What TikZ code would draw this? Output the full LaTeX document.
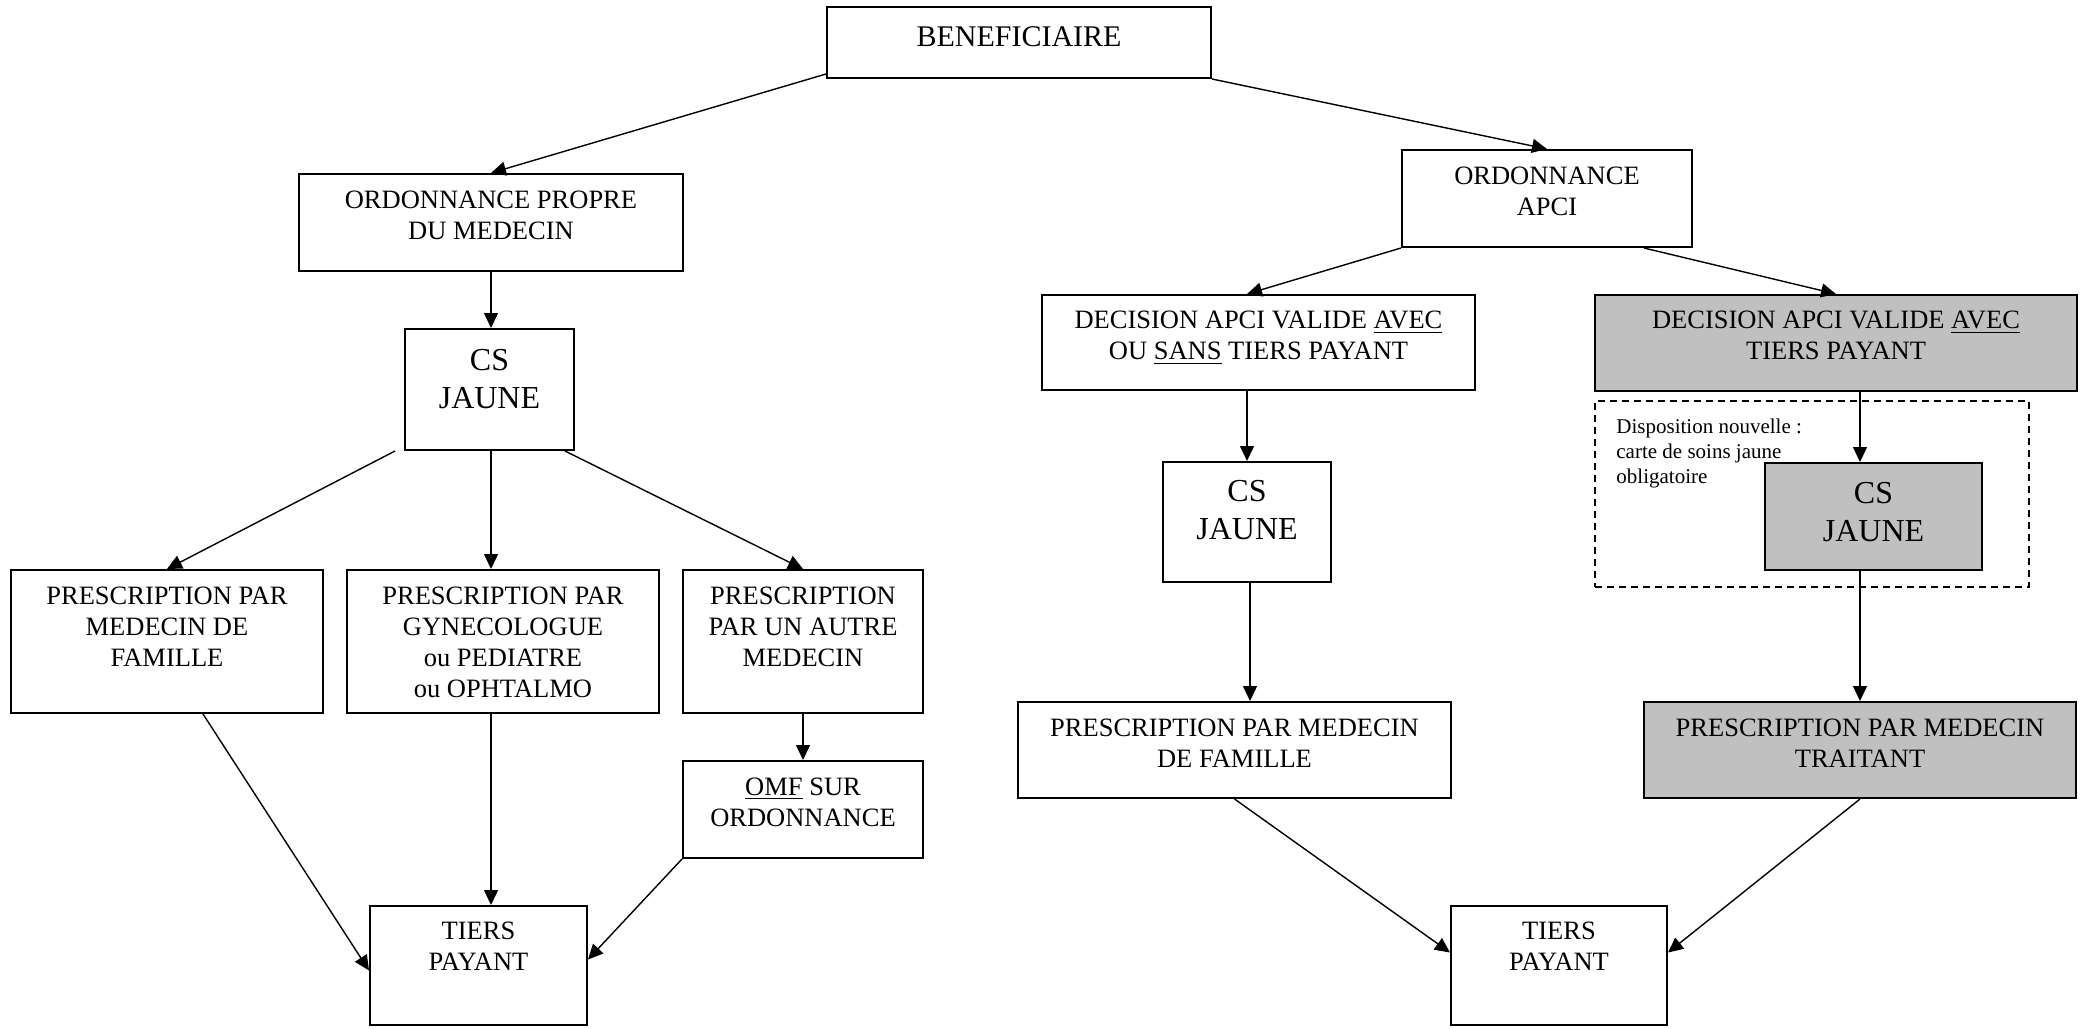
\documentclass[tikz,border=0pt]{standalone}
\usepackage{fontspec}
\setmainfont{Liberation Serif}
\usetikzlibrary{arrows.meta,calc}
\definecolor{boxgray}{RGB}{192,192,192}
\newcommand\bx[6][]{\node[box,#1,minimum width={(#4-#2)*0.5pt},minimum height={(#5-#3)*0.5pt}] (#6) at ({(#2+#4)/2},{(#3+#5)/2}) {};}
\begin{document}
\begin{tikzpicture}[x=0.5pt,y=-0.5pt,
  box/.style={draw,line width=1pt,inner sep=0pt,rectangle},
  graybox/.style={fill=boxgray},
  notebox/.style={line width=1pt,dash pattern=on 3.5pt off 2.5pt},
  lbl/.style={inner sep=0pt,align=center,anchor=north,font=\fontsize{13.25}{15.5}\selectfont},
  cslbl/.style={inner sep=0pt,align=center,anchor=north,font=\fontsize{16}{19}\selectfont},
  benelbl/.style={inner sep=0pt,align=center,anchor=north,font=\fontsize{15}{18}\selectfont},
  notelbl/.style={inner sep=0pt,align=left,anchor=north west,font=\fontsize{10.5}{12.5}\selectfont},
  conn/.style={line width=0.7pt,-{Triangle[length=7.5pt,width=7pt]}}
]
\useasboundingbox (0,0) rectangle (2082,1028);

% boxes
\bx{827}{7}{1211}{78}{bene}
\bx{299}{174}{683}{271}{ordp}
\bx{405}{329}{574}{450}{csL}
\bx{11}{570}{323}{713}{pA}
\bx{347}{570}{659}{713}{pB}
\bx{683}{570}{923}{713}{pC}
\bx{683}{761}{923}{858}{omf}
\bx{370}{906}{587}{1025}{tpL}
\bx{1402}{150}{1692}{247}{orda}
\bx{1042}{295}{1475}{390}{decA}
\bx[graybox]{1595}{295}{2077}{391}{decB}
\bx{1163}{462}{1331}{582}{csM}
\bx[notebox]{1595}{401}{2029}{587}{note}
\bx[graybox]{1765}{463}{1982}{570}{csG}
\bx{1018}{702}{1451}{798}{pmf}
\bx[graybox]{1644}{702}{2076}{798}{ptr}
\bx{1451}{906}{1667}{1025}{tpR}

% texts
\node[benelbl] (bene-t) at ($(bene.north)+(0,20)$) {BENEFICIAIRE};
\node[lbl] (ordp-t) at ($(ordp.north)+(0,17.5)$) {ORDONNANCE PROPRE\\DU MEDECIN};
\node[cslbl] (csL-t) at ($(csL.north)+(0,20.5)$) {CS\\JAUNE};
\node[lbl] (pA-t) at ($(pA.north)+(0,18)$) {PRESCRIPTION PAR\\MEDECIN DE\\FAMILLE};
\node[lbl] (pB-t) at ($(pB.north)+(0,18)$) {PRESCRIPTION PAR\\GYNECOLOGUE\\ou PEDIATRE\\ou OPHTALMO};
\node[lbl] (pC-t) at ($(pC.north)+(0,18)$) {PRESCRIPTION\\PAR UN AUTRE\\MEDECIN};
\node[lbl] (omf-t) at ($(omf.north)+(0,17.5)$) {\underline{OMF} SUR\\ORDONNANCE};
\node[lbl] (tpL-t) at ($(tpL.north)+(0,17)$) {TIERS\\PAYANT};
\node[lbl] (orda-t) at ($(orda.north)+(0,17.5)$) {ORDONNANCE\\APCI};
\node[lbl] (decA-t) at ($(decA.north)+(0,17)$) {DECISION APCI VALIDE \underline{AVEC}\\OU \underline{SANS} TIERS PAYANT};
\node[lbl] (decB-t) at ($(decB.north)+(0,17)$) {DECISION APCI VALIDE \underline{AVEC}\\TIERS PAYANT};
\node[cslbl] (csM-t) at ($(csM.north)+(0,19)$) {CS\\JAUNE};
\node[cslbl] (csG-t) at ($(csG.north)+(0,19.5)$) {CS\\JAUNE};
\node[notelbl] (note-t) at (1616,419) {Disposition nouvelle :\\carte de soins jaune\\obligatoire};
\node[lbl] (pmf-t) at ($(pmf.north)+(0,18)$) {PRESCRIPTION PAR MEDECIN\\DE FAMILLE};
\node[lbl] (ptr-t) at ($(ptr.north)+(0,18)$) {PRESCRIPTION PAR MEDECIN\\TRAITANT};
\node[lbl] (tpR-t) at ($(tpR.north)+(0,17)$) {TIERS\\PAYANT};

% connectors
\draw[conn] ($(bene.south west)+(0,-5)$) -- (ordp.north);
\draw[conn] (bene.south east) -- (orda.north);
\draw[conn] (ordp.south) -- (ordp.south |- csL.north);
\draw[conn] ($(csL.south west)+(-9,0)$) -- (pA.north);
\draw[conn] (ordp.south |- csL.south) -- (ordp.south |- pB.north);
\draw[conn] ($(csL.south east)+(-10,0)$) -- (pC.north);
\draw[conn] (pC.south) -- (omf.north);
\draw[conn] ($(pA.south)+(36,0)$) -- ($(tpL.west)+(0,5)$);
\draw[conn] (ordp.south |- pB.south) -- (ordp.south |- tpL.north);
\draw[conn] (omf.south west) -- ($(tpL.east)+(0,-6)$);
\draw[conn] (orda.south west) -- (csM.north |- decA.north);
\draw[conn] ($(orda.south)+(97,0)$) -- (decB.north);
\draw[conn] (csM.north |- decA.south) -- (csM.north);
\draw[conn] ($(csM.south)+(3,0)$) -- ($(csM.south |- pmf.north)+(3,0)$);
\draw[conn] (ptr.north |- decB.south) -- (ptr.north |- csG.north);
\draw[conn] (ptr.north |- csG.south) -- (ptr.north);
\draw[conn] (pmf.south) -- ($(tpR.west)+(0,-13)$);
\draw[conn] (ptr.south) -- ($(tpR.east)+(0,-13)$);
\end{tikzpicture}
\end{document}
